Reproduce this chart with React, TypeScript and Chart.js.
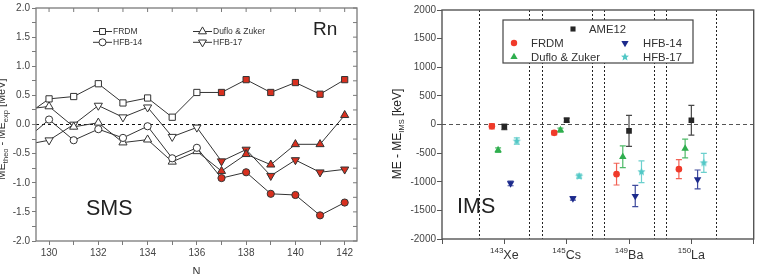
import React, { useEffect, useRef } from 'react';
import { Chart, registerables } from 'chart.js';
Chart.register(...registerables);

// ---------- Left panel (SMS, Rn) ----------
const N = [129, 130, 131, 132, 133, 134, 135, 136, 137, 138, 139, 140, 141, 142];
const frdmSMS = [0.14, 0.44, 0.48, 0.70, 0.37, 0.455, 0.125, 0.55, 0.55, 0.77, 0.55, 0.72, 0.52, 0.77];
const hfb14SMS = [-0.28, 0.085, -0.27, -0.08, -0.23, -0.03, -0.58, -0.40, -0.92, -0.82, -1.19, -1.21, -1.56, -1.34];
const dufloSMS = [0.26, 0.31, -0.04, 0.03, -0.31, -0.26, -0.64, -0.46, -0.80, -0.51, -0.69, -0.34, -0.34, 0.16];
const hfb17SMS = [-0.35, -0.27, 0.0, 0.325, 0.125, 0.295, -0.21, -0.05, -0.63, -0.43, -0.88, -0.61, -0.82, -0.77];
const firstFilledN = 137;
const leftXTicks = [130, 131, 132, 133, 134, 135, 136, 137, 138, 139, 140, 141, 142];
const leftYTicks = [-2, -1.75, -1.5, -1.25, -1, -0.75, -0.5, -0.25, 0, 0.25, 0.5, 0.75, 1, 1.25, 1.5, 1.75, 2];

// ---------- Right panel (IMS) ----------
const massNumbers = ['143', '145', '149', '150'];
const elements = ['Xe', 'Cs', 'Ba', 'La'];
const categoryIndex = [1, 2, 3, 4];
const ame12 = [-42, 75, -111, 75];
const ame12Err = [50, 35, 270, 260];
const frdmIMS = [-30, -146, -867, -780];
const frdmIMSErr = [45, 35, 190, 165];
const dufloIMS = [-448, -99, -565, -419];
const dufloIMSErr = [40, 35, 190, 165];
const hfb14IMS = [-1030, -1291, -1250, -960];
const hfb14IMSErr = [40, 30, 185, 165];
const hfb17IMS = [-290, -902, -826, -670];
const hfb17IMSErr = [55, 35, 190, 165];
const rightYTicks = [-2000, -1500, -1000, -500, 0, 500, 1000, 1500, 2000];
const rightXTicks = [0, 1, 2, 3, 4, 5];

const FONT = "'Liberation Sans', Arial, Helvetica, sans-serif";
const RED = '#d8301f';
const C_FRDM = '#f03a2a';
const C_DUFLO = '#2fae4e';
const C_AME = '#262626';
const C_HFB14 = '#1c2a8c';
const C_HFB17 = '#52c8c6';

function shapePath(ctx: CanvasRenderingContext2D, style: string, x: number, y: number, r: number) {
  ctx.beginPath();
  if (style === 'circle') {
    ctx.arc(x, y, r, 0, Math.PI * 2);
  } else if (style === 'rect') {
    const s = r * Math.SQRT2;
    ctx.rect(x - s / 2, y - s / 2, s, s);
  } else if (style === 'triangle' || style === 'triangleDown') {
    const rot = style === 'triangle' ? 0 : Math.PI;
    for (let i = 0; i < 3; i++) {
      const a = rot + (i * 2 * Math.PI) / 3;
      const px = x + Math.sin(a) * r;
      const py = y - Math.cos(a) * r;
      if (i === 0) ctx.moveTo(px, py);
      else ctx.lineTo(px, py);
    }
    ctx.closePath();
  } else if (style === 'star') {
    for (let i = 0; i < 10; i++) {
      const a = (i * Math.PI) / 5;
      const rr = i % 2 === 0 ? r : r * 0.45;
      const px = x + Math.sin(a) * rr;
      const py = y - Math.cos(a) * rr;
      if (i === 0) ctx.moveTo(px, py);
      else ctx.lineTo(px, py);
    }
    ctx.closePath();
  }
}

function drawMarker(ctx: CanvasRenderingContext2D, style: string, x: number, y: number, r: number, fill: string, stroke: string | null, lw = 1) {
  shapePath(ctx, style, x, y, r);
  ctx.fillStyle = fill;
  ctx.fill();
  if (stroke) {
    ctx.strokeStyle = stroke;
    ctx.lineWidth = lw;
    ctx.stroke();
  }
}

function makeStarCanvas(color: string, r: number) {
  const size = Math.ceil(r * 2 + 2);
  const c = document.createElement('canvas');
  c.width = size;
  c.height = size;
  const ctx = c.getContext('2d')!;
  drawMarker(ctx, 'star', size / 2, size / 2, r, color, null);
  return c;
}

const leftPlugin = {
  id: 'leftDecor',
  beforeDatasetsDraw(chart: any) {
    const { ctx, chartArea: a, scales } = chart;
    const y0 = scales.y.getPixelForValue(0);
    ctx.save();
    ctx.strokeStyle = '#111';
    ctx.lineWidth = 1;
    ctx.setLineDash([3, 3]);
    ctx.beginPath();
    ctx.moveTo(a.left, y0);
    ctx.lineTo(a.right, y0);
    ctx.stroke();
    ctx.restore();
  },
  afterDraw(chart: any) {
    const { ctx, chartArea: a, scales } = chart;
    ctx.save();
    // frame
    ctx.strokeStyle = '#7a7a7a';
    ctx.lineWidth = 1.3;
    ctx.strokeRect(a.left, a.top, a.right - a.left, a.bottom - a.top);
    // inner ticks top & right
    ctx.lineWidth = 1;
    ctx.beginPath();
    leftXTicks.forEach((v) => {
      const x = scales.x.getPixelForValue(v);
      ctx.moveTo(x, a.top);
      ctx.lineTo(x, a.top + 4);
    });
    leftYTicks.forEach((v) => {
      const y = scales.y.getPixelForValue(v);
      ctx.moveTo(a.right, y);
      ctx.lineTo(a.right - 4, y);
    });
    ctx.stroke();

    // legend
    const items = [
      { label: 'FRDM', style: 'rect', r: 4.2, x: 93, y: 31.5 },
      { label: 'HFB-14', style: 'circle', r: 3.5, x: 93, y: 42.3 },
      { label: 'Duflo & Zuker', style: 'triangle', r: 4.6, x: 193, y: 31.5 },
      { label: 'HFB-17', style: 'triangleDown', r: 4.6, x: 193, y: 42.3 },
    ];
    ctx.font = `8.5px ${FONT}`;
    ctx.textBaseline = 'middle';
    ctx.textAlign = 'left';
    items.forEach((it) => {
      ctx.strokeStyle = '#333';
      ctx.lineWidth = 1;
      ctx.beginPath();
      ctx.moveTo(it.x, it.y);
      ctx.lineTo(it.x + 19, it.y);
      ctx.stroke();
      drawMarker(ctx, it.style, it.x + 9.5, it.y, it.r, '#fff', '#333', 1);
      ctx.fillStyle = '#333';
      ctx.fillText(it.label, it.x + 20, it.y + 0.5);
    });

    // big labels
    ctx.fillStyle = '#222';
    ctx.textBaseline = 'alphabetic';
    ctx.font = `19px ${FONT}`;
    ctx.fillText('Rn', 313, 35);
    ctx.font = `21.5px ${FONT}`;
    ctx.fillText('SMS', 86, 215);

    // x title
    ctx.font = `11px ${FONT}`;
    ctx.textAlign = 'center';
    ctx.fillStyle = '#333';
    ctx.fillText('N', (a.left + a.right) / 2, 275);

    // y title (rotated) ME_theo - ME_exp [MeV]
    const parts = [
      { t: 'ME', sub: false },
      { t: 'theo', sub: true },
      { t: ' - ME', sub: false },
      { t: 'exp', sub: true },
      { t: ' [MeV]', sub: false },
    ];
    const mainF = `11px ${FONT}`;
    const subF = `7.5px ${FONT}`;
    let total = 0;
    parts.forEach((p) => {
      ctx.font = p.sub ? subF : mainF;
      total += ctx.measureText(p.t).width;
    });
    ctx.translate(5, 129);
    ctx.rotate(-Math.PI / 2);
    ctx.textAlign = 'left';
    let cx = -total / 2;
    parts.forEach((p) => {
      ctx.font = p.sub ? subF : mainF;
      ctx.fillText(p.t, cx, p.sub ? 2.5 : 0);
      cx += ctx.measureText(p.t).width;
    });
    ctx.restore();
  },
};

const errorBarPlugin = {
  id: 'errBars',
  beforeDatasetsDraw(chart: any) {
    const { ctx, chartArea: a, scales } = chart;
    ctx.save();
    // vertical dotted boxes
    ctx.strokeStyle = '#222';
    ctx.lineWidth = 1;
    ctx.setLineDash([2, 2]);
    ctx.beginPath();
    categoryIndex.forEach((c) => {
      [c - 0.4, c + 0.4].forEach((v) => {
        const x = Math.round(scales.x.getPixelForValue(v)) + 0.5;
        ctx.moveTo(x, a.top);
        ctx.lineTo(x, a.bottom);
      });
    });
    ctx.stroke();
    // zero line
    ctx.strokeStyle = '#555';
    ctx.lineWidth = 1.2;
    ctx.setLineDash([4, 3]);
    const y0 = scales.y.getPixelForValue(0);
    ctx.beginPath();
    ctx.moveTo(a.left, y0);
    ctx.lineTo(a.right, y0);
    ctx.stroke();
    ctx.setLineDash([]);
    // error bars
    chart.data.datasets.forEach((ds: any) => {
      ctx.strokeStyle = ds.errColor;
      ctx.lineWidth = 1.2;
      ds.data.forEach((p: any, i: number) => {
        const e = ds.errors[i];
        const x = scales.x.getPixelForValue(p.x);
        const yt = scales.y.getPixelForValue(p.y + e);
        const yb = scales.y.getPixelForValue(p.y - e);
        ctx.beginPath();
        ctx.moveTo(x, yt);
        ctx.lineTo(x, yb);
        ctx.moveTo(x - 3, yt);
        ctx.lineTo(x + 3, yt);
        ctx.moveTo(x - 3, yb);
        ctx.lineTo(x + 3, yb);
        ctx.stroke();
      });
    });
    ctx.restore();
  },
  afterDraw(chart: any) {
    const { ctx, chartArea: a, scales } = chart;
    ctx.save();
    ctx.strokeStyle = '#555';
    ctx.lineWidth = 1.4;
    ctx.strokeRect(a.left, a.top, a.right - a.left, a.bottom - a.top);

    // category labels with superscripts
    ctx.fillStyle = '#333';
    ctx.textBaseline = 'alphabetic';
    ctx.textAlign = 'left';
    const supF = `8px ${FONT}`;
    const mainF = `12.5px ${FONT}`;
    categoryIndex.forEach((c, i) => {
      ctx.font = supF;
      const ws = ctx.measureText(massNumbers[i]).width;
      ctx.font = mainF;
      const we = ctx.measureText(elements[i]).width;
      const x = scales.x.getPixelForValue(c) - (ws + we) / 2;
      ctx.font = supF;
      ctx.fillText(massNumbers[i], x, a.bottom + 14);
      ctx.font = mainF;
      ctx.fillText(elements[i], x + ws, a.bottom + 19.5);
    });

    // legend box
    ctx.strokeStyle = '#444';
    ctx.lineWidth = 1.2;
    ctx.fillStyle = '#fff';
    ctx.fillRect(125, 20, 190, 43);
    ctx.strokeRect(125, 20, 190, 43);
    const items = [
      { label: 'AME12', style: 'rect', c: C_AME, mx: 195, tx: 211, y: 29, r: 3.6 },
      { label: 'FRDM', style: 'circle', c: C_FRDM, mx: 136, tx: 153, y: 43, r: 3.2 },
      { label: 'Duflo & Zuker', style: 'triangle', c: C_DUFLO, mx: 136, tx: 153, y: 57, r: 4.2 },
      { label: 'HFB-14', style: 'triangleDown', c: C_HFB14, mx: 247, tx: 265, y: 43, r: 4.2 },
      { label: 'HFB-17', style: 'star', c: C_HFB17, mx: 247, tx: 265, y: 57, r: 4.2 },
    ];
    ctx.font = `11.3px ${FONT}`;
    ctx.textBaseline = 'middle';
    items.forEach((it) => {
      drawMarker(ctx, it.style, it.mx, it.y, it.r, it.c, null);
      ctx.fillStyle = '#333';
      ctx.fillText(it.label, it.tx, it.y + 0.5);
    });

    // IMS label
    ctx.fillStyle = '#222';
    ctx.textBaseline = 'alphabetic';
    ctx.font = `21.5px ${FONT}`;
    ctx.fillText('IMS', 79, 213);

    // y title: ME - ME_IMS [keV]
    const parts = [
      { t: 'ME - ME', sub: false },
      { t: 'IMS', sub: true },
      { t: ' [keV]', sub: false },
    ];
    const tF = `12px ${FONT}`;
    const sF = `7.5px ${FONT}`;
    let total = 0;
    parts.forEach((p) => {
      ctx.font = p.sub ? sF : tF;
      total += ctx.measureText(p.t).width;
    });
    ctx.translate(23, 134);
    ctx.rotate(-Math.PI / 2);
    let cx = -total / 2;
    parts.forEach((p) => {
      ctx.font = p.sub ? sF : tF;
      ctx.fillText(p.t, cx, p.sub ? 2.5 : 0);
      cx += ctx.measureText(p.t).width;
    });
    ctx.restore();
  },
};

function leftDataset(label: string, values: number[], style: string, r: number, rotation = 0) {
  return {
    label,
    data: N.map((n, i) => ({ x: n, y: values[i] })),
    borderColor: '#333',
    borderWidth: 1,
    pointStyle: style,
    pointRotation: rotation,
    pointRadius: r,
    pointBorderWidth: 1,
    pointBorderColor: '#333',
    pointBackgroundColor: N.map((n) => (n >= firstFilledN ? RED : '#ffffff')),
    tension: 0,
    clip: 0,
  };
}

function rightDataset(label: string, values: number[], errors: number[], offset: number, style: any, r: number, color: string, errColor: string, rotation = 0) {
  return {
    label,
    data: categoryIndex.map((c, i) => ({ x: c + offset, y: values[i] })),
    errors,
    errColor,
    showLine: false,
    pointStyle: style,
    pointRotation: rotation,
    pointRadius: r,
    pointBorderWidth: 0,
    pointBackgroundColor: color,
    pointBorderColor: color,
    backgroundColor: color,
    borderColor: color,
  };
}

export default function App() {
  const leftRef = useRef<HTMLCanvasElement>(null);
  const rightRef = useRef<HTMLCanvasElement>(null);

  useEffect(() => {
    const tickFont = { size: 10, family: FONT };
    const left = new Chart(leftRef.current!, {
      type: 'line',
      data: {
        datasets: [
          leftDataset('FRDM', frdmSMS, 'rect', 4.4),
          leftDataset('HFB-14', hfb14SMS, 'circle', 3.6),
          leftDataset('Duflo & Zuker', dufloSMS, 'triangle', 4.7),
          leftDataset('HFB-17', hfb17SMS, 'triangle', 4.7, 180),
        ],
      },
      options: {
        animation: false,
        responsive: false,
        maintainAspectRatio: false,
        layout: { padding: { left: 0, right: 21, top: 7, bottom: 0 } },
        plugins: { legend: { display: false }, tooltip: { enabled: false } },
        scales: {
          x: {
            type: 'linear',
            min: 129.47,
            max: 142.5,
            afterBuildTicks: (s: any) => {
              s.ticks = leftXTicks.map((v) => ({ value: v }));
            },
            afterFit: (s: any) => {
              s.height = 33;
            },
            grid: { drawOnChartArea: false, tickLength: 4, color: '#7a7a7a' },
            border: { display: false },
            ticks: {
              autoSkip: false,
              maxRotation: 0,
              padding: 2,
              color: '#444',
              font: tickFont,
              callback: (v: any) => (Number(v) % 2 === 0 ? String(v) : ''),
            },
          },
          y: {
            type: 'linear',
            min: -2,
            max: 2,
            afterBuildTicks: (s: any) => {
              s.ticks = leftYTicks.map((v) => ({ value: v }));
            },
            afterFit: (s: any) => {
              s.width = 36;
            },
            grid: { drawOnChartArea: false, tickLength: 4, color: '#7a7a7a' },
            border: { display: false },
            ticks: {
              autoSkip: false,
              padding: 2,
              color: '#444',
              font: tickFont,
              callback: (v: any) => (Math.abs((Number(v) * 2) % 1) < 1e-9 ? Number(v).toFixed(1) : ''),
            },
          },
        },
      },
      plugins: [leftPlugin],
    });

    const star = makeStarCanvas(C_HFB17, 4.3);
    const right = new Chart(rightRef.current!, {
      type: 'scatter',
      data: {
        datasets: [
          rightDataset('FRDM', frdmIMS, frdmIMSErr, -0.2, 'circle', 3.3, C_FRDM, 'rgba(240,70,55,0.85)'),
          rightDataset('Duflo & Zuker', dufloIMS, dufloIMSErr, -0.1, 'triangle', 4.3, C_DUFLO, 'rgba(47,174,78,0.85)'),
          rightDataset('AME12', ame12, ame12Err, 0, 'rect', 4.0, C_AME, 'rgba(40,40,40,0.85)'),
          rightDataset('HFB-14', hfb14IMS, hfb14IMSErr, 0.1, 'triangle', 4.3, C_HFB14, 'rgba(28,42,140,0.85)', 180),
          rightDataset('HFB-17', hfb17IMS, hfb17IMSErr, 0.2, star, 4.3, C_HFB17, 'rgba(82,200,198,0.85)'),
        ] as any,
      },
      options: {
        animation: false,
        responsive: false,
        maintainAspectRatio: false,
        layout: { padding: { left: 0, right: 2, top: 10, bottom: 0 } },
        plugins: { legend: { display: false }, tooltip: { enabled: false } },
        scales: {
          x: {
            type: 'linear',
            min: 0,
            max: 5,
            afterBuildTicks: (s: any) => {
              s.ticks = rightXTicks.map((v) => ({ value: v }));
            },
            afterFit: (s: any) => {
              s.height = 35;
            },
            grid: { drawOnChartArea: false, tickLength: 5, color: '#555' },
            border: { display: false },
            ticks: { display: true, callback: () => '', font: tickFont },
          },
          y: {
            type: 'linear',
            min: -2000,
            max: 2000,
            afterBuildTicks: (s: any) => {
              s.ticks = rightYTicks.map((v) => ({ value: v }));
            },
            afterFit: (s: any) => {
              s.width = 64;
            },
            grid: { drawOnChartArea: false, tickLength: 5, color: '#555' },
            border: { display: false },
            ticks: {
              autoSkip: false,
              padding: 1,
              color: '#444',
              font: tickFont,
              callback: (v: any) => String(v),
            },
          },
        },
      },
      plugins: [errorBarPlugin],
    });

    return () => {
      left.destroy();
      right.destroy();
    };
  }, []);

  return (
    <div style={{ position: 'fixed', left: 0, top: 0, width: 758, height: 274, background: '#fff', overflow: 'hidden' }}>
      <canvas ref={leftRef} width={378} height={274} style={{ position: 'absolute', left: 0, top: 0, width: 378, height: 274 }} />
      <canvas ref={rightRef} width={380} height={274} style={{ position: 'absolute', left: 378, top: 0, width: 380, height: 274 }} />
    </div>
  );
}
